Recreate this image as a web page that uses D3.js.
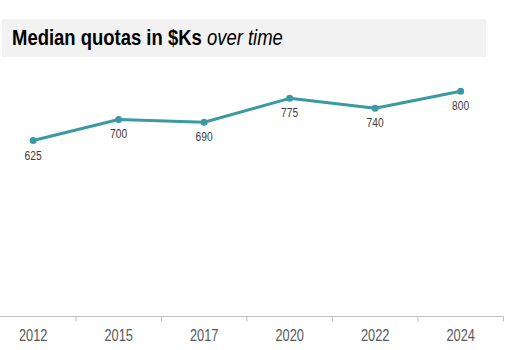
<!DOCTYPE html>
<html>
<head>
<meta charset="utf-8">
<script src="https://cdn.jsdelivr.net/npm/d3@7"></script>
<style>
  body { margin: 0; background: #fff; }
  svg { display: block; }
</style>
</head>
<body>
<div id="chart"></div>
<script>
// Median quotas over time

const years = ["2012", "2015", "2017", "2020", "2022", "2024"];
const quotas = [625, 700, 690, 775, 740, 800];

const W = 508, H = 350;
const FONT = "'Liberation Sans Narrow', 'Arial Narrow', 'Liberation Sans', Arial, sans-serif";

const svg = d3.select("#chart").append("svg")
  .attr("width", W)
  .attr("height", H);

// narrow-ish text: squeeze horizontally around the anchor point
function narrow(sel, sx) {
  sel.attr("transform", function() {
    const px = +d3.select(this).attr("x"), py = +d3.select(this).attr("y");
    return `translate(${px},${py}) scale(${sx},1) translate(${-px},${-py})`;
  });
}

// Title band
svg.append("rect")
  .attr("x", 2).attr("y", 19)
  .attr("width", 484).attr("height", 38)
  .attr("fill", "#f2f2f2");

const title = svg.append("text")
  .attr("x", 12).attr("y", 45.5)
  .style("font-family", FONT)
  .style("font-size", "22px")
  .style("fill", "#000");
title.append("tspan").style("font-weight", "700").text("Median quotas in $Ks ");
title.append("tspan").style("font-style", "italic").text("over time");
narrow(title, 0.84);

const data = years.map((y, i) => ({ year: y, value: quotas[i] }));

const x = d3.scaleBand()
  .domain(years)
  .range([-9.6, 503.4]);

const y = d3.scaleLinear()
  .domain([0, 800])
  .range([316.5, 91.3]);

// X axis
const axisY = 316.5;
const gx = svg.append("g")
  .attr("transform", `translate(0,${axisY})`);

gx.append("line")
  .attr("x1", 0).attr("x2", 503.4)
  .attr("stroke", "#bfbfbf")
  .attr("stroke-width", 1);

gx.selectAll(".tick")
  .data(years)
  .enter().append("line")
  .attr("x1", d => x(d) + x.bandwidth())
  .attr("x2", d => x(d) + x.bandwidth())
  .attr("y1", 0).attr("y2", 5)
  .attr("stroke", "#bfbfbf");

gx.selectAll(".lbl")
  .data(years)
  .enter().append("text")
  .attr("x", d => x(d) + x.bandwidth() / 2)
  .attr("y", 25)
  .attr("text-anchor", "middle")
  .style("font-family", FONT)
  .style("font-size", "16px")
  .style("fill", "#595959")
  .text(d => d)
  .call(narrow, 0.8);

// Line
const line = d3.line()
  .x(d => x(d.year) + x.bandwidth() / 2)
  .y(d => y(d.value));

svg.append("path")
  .datum(data)
  .attr("fill", "none")
  .attr("stroke", "#3a9aa2")
  .attr("stroke-width", 3)
  .attr("stroke-linejoin", "round")
  .attr("d", line);

svg.selectAll(".dot")
  .data(data)
  .enter().append("circle")
  .attr("cx", d => x(d.year) + x.bandwidth() / 2)
  .attr("cy", d => y(d.value))
  .attr("r", 3.5)
  .attr("fill", "#3a9aa2");

// Value labels under points
svg.selectAll(".val")
  .data(data)
  .enter().append("text")
  .attr("x", d => x(d.year) + x.bandwidth() / 2)
  .attr("y", d => y(d.value) + 19)
  .attr("text-anchor", "middle")
  .style("font-family", FONT)
  .style("font-size", "12.5px")
  .style("fill", "#404040")
  .text(d => d.value)
  .call(narrow, 0.82);
</script>
</body>
</html>
